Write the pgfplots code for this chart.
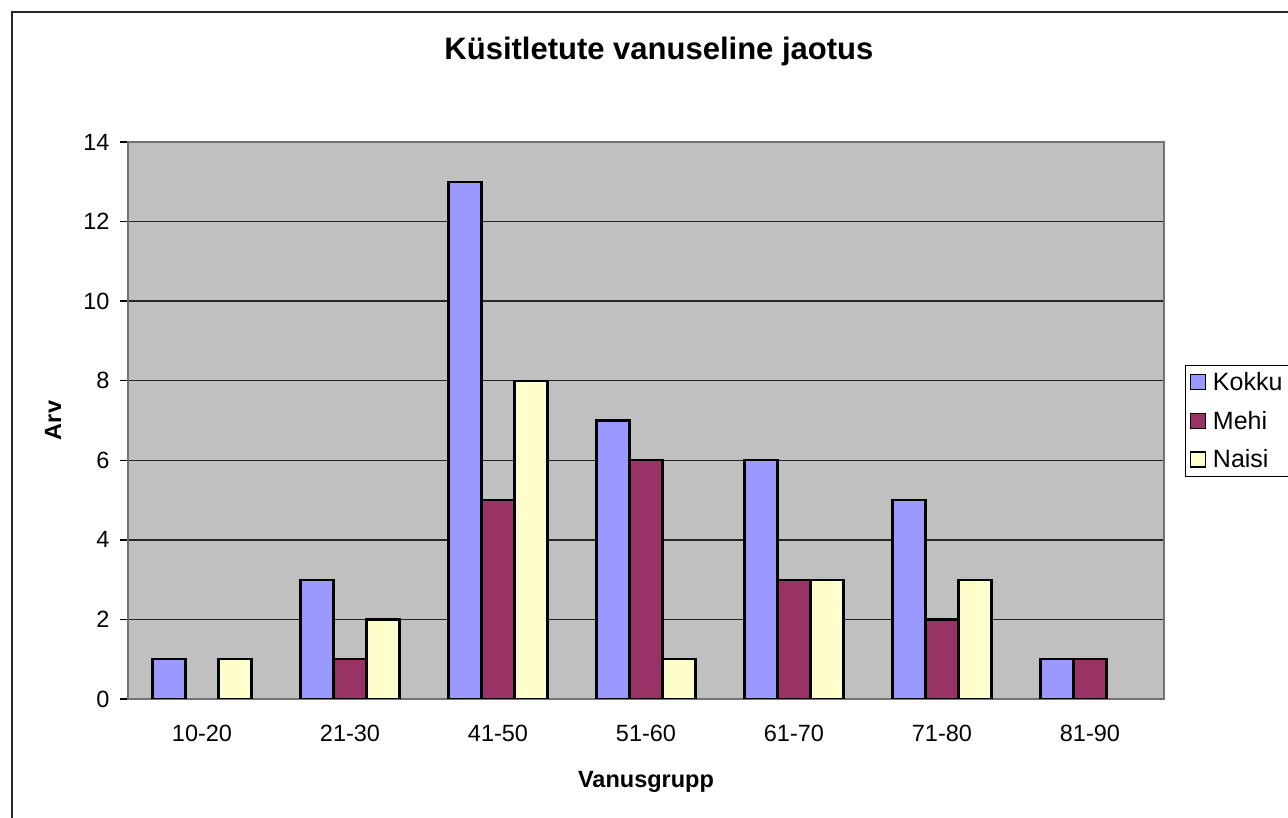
\documentclass[border=0pt]{standalone}
\usepackage{pgfplots}
\pgfplotsset{compat=1.18}
\usepackage{fontspec}
\setmainfont{Liberation Sans}
\definecolor{kokku}{HTML}{9999FF}
\definecolor{mehi}{HTML}{993366}
\definecolor{naisi}{HTML}{FFFFCC}
\definecolor{plotbg}{HTML}{C0C0C0}
\newcommand{\tf}{\fontsize{23.5}{28}\selectfont}
\begin{document}
\begin{tikzpicture}[x=1pt,y=1pt]
\useasboundingbox (0,0) rectangle (1288,818);
\clip (0,0) rectangle (1288,818);
\fill[white] (0,0) rectangle (1288,818);
\draw[line width=2pt, black!85] (12,-20) rectangle (1320,806);
\begin{axis}[
  at={(128pt,119pt)}, anchor=south west,
  scale only axis, width=1036pt, height=557pt,
  ybar=0pt, bar width=33pt,
  xmin=-0.5, xmax=6.5, ymin=0, ymax=14,
  ytick={0,2,...,14},
  xtick={0,1,2,3,4,5,6},
  xticklabels={10-20,21-30,41-50,51-60,61-70,71-80,81-90},
  major x tick style={draw=none},
  extra x ticks={-0.5,0.5,1.5,2.5,3.5,4.5,5.5,6.5},
  extra x tick labels={},
  extra x tick style={major tick length=8pt, tick style={black, line width=1.4pt}, tick align=outside},
  ymajorgrids, grid style={black!85, line width=1.3pt},
  major tick length=8pt, tick align=outside,
  y tick style={black, line width=1.4pt},
  xtick pos=bottom, ytick pos=left,
  axis background/.style={fill=plotbg},
  axis line style={draw=black!55, line width=2pt},
  tick label style={font=\tf},
  /pgf/number format/assume math mode=true,
  yticklabel style={xshift=-7pt},
  xticklabel style={yshift=-15pt},
  xlabel={\bfseries Vanusgrupp},
  ylabel={\bfseries Arv},
  label style={font=\tf},
  xlabel style={at={(axis description cs:0.5,-0.149)}, anchor=center},
  ylabel style={at={(axis description cs:-0.0724,0.5)}, anchor=center},
  title={\bfseries Küsitletute vanuseline jaotus},
  title style={font=\fontsize{31}{36}\selectfont, at={(axis description cs:0.5125,1.1526)}, anchor=center},
  legend style={at={(axis description cs:1.0203,0.6)}, anchor=north west,
    draw=black, line width=1.3pt, fill=white, font=\fontsize{25}{30}\selectfont,
    cells={anchor=west}, row sep=15pt, inner xsep=4pt, inner ysep=5pt},
  legend image code/.code={\draw[#1, line width=1.3pt] (2pt,-7.5pt) rectangle (17pt,7.5pt);},
]
\addplot[fill=kokku, draw=black, line width=2.2pt] coordinates {(0,1) (1,3) (2,13) (3,7) (4,6) (5,5) (6,1)};
\addplot[fill=mehi, draw=black, line width=2.2pt] coordinates {(1,1) (2,5) (3,6) (4,3) (5,2) (6,1)};
\addplot[fill=naisi, draw=black, line width=2.2pt] coordinates {(0,1) (1,2) (2,8) (3,1) (4,3) (5,3)};
\legend{\hspace{5pt}Kokku,\hspace{5pt}Mehi,\hspace{5pt}Naisi}
\end{axis}
\end{tikzpicture}
\end{document}
